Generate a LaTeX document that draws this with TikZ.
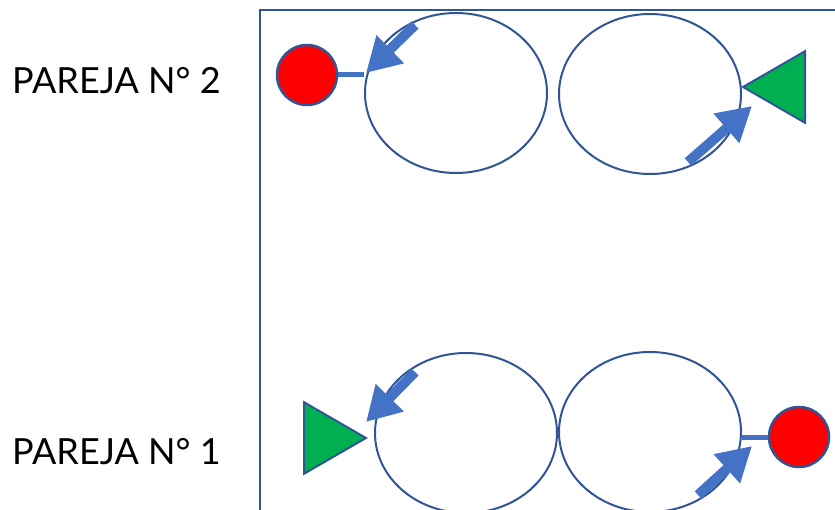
\documentclass[tikz,border=0pt]{standalone}
\usepackage{fontspec}
\setmainfont{Lato}
\usetikzlibrary{arrows.meta,shapes.geometric}

\definecolor{borde}{HTML}{2F5597}
\definecolor{flecha}{HTML}{4472C4}
\definecolor{rojo}{HTML}{FF0000}
\definecolor{verde}{HTML}{00B050}

\tikzset{
  aro/.style={ellipse, draw=borde, line width=2pt, minimum width=182pt, minimum height=160pt, inner sep=0pt},
  ficha/.style={circle, draw=borde, fill=rojo, line width=2.5pt, minimum size=60pt, inner sep=0pt},
  cono/.style={isosceles triangle, isosceles triangle apex angle=60, draw=borde, fill=verde,
    line width=2pt, minimum height=62pt, inner sep=0pt, outer sep=0pt, anchor=apex},
  giro/.style={draw=flecha, line width=10pt, -{Triangle[length=34pt,width=37pt]}},
  enlace/.style={draw=flecha, line width=5pt},
  rotulo/.style={inner sep=0pt, anchor=west, font=\fontsize{36}{40}\selectfont}
}

\begin{document}
\begin{tikzpicture}[x=1pt,y=-1pt]
  \useasboundingbox (0,0) rectangle (835,510);
  \begin{scope}
    \clip (0,0) rectangle (835,510);
    \draw[borde, line width=2pt] (260,530) -- (260,10) -- (860,10);
  \end{scope}

  % pareja 2 (arriba)
  \node[rotulo] (t2) at (12,81) {PAREJA N° 2};
  \node[aro] (a2i) at (456,93) {};
  \node[aro] (a2d) at (650,94) {};
  \node[ficha] (r2) at (307,75) {};
  \node[cono, shape border rotate=180] (v2) at (743,87) {};
  \coordinate (c2a) at (415,25);
  \coordinate (c2b) at (366,73);
  \coordinate (c2c) at (688,162);
  \coordinate (c2d) at (752,106);
  \draw[enlace] (r2.east) -- (a2i.west |- r2.east);
  \draw[giro] (c2a) -- (c2b);
  \draw[giro] (c2c) -- (c2d);

  % pareja 1 (abajo)
  \node[rotulo] (t1) at (12,452) {PAREJA N° 1};
  \node[aro] (a1i) at (466,433) {};
  \node[aro] (a1d) at (650,432) {};
  \node[ficha] (r1) at (799,437) {};
  \node[cono] (v1) at (366,438) {};
  \coordinate (c1a) at (415,372);
  \coordinate (c1b) at (366,422);
  \coordinate (c1c) at (698,495);
  \coordinate (c1d) at (752,446);
  \draw[enlace] (a1d.east |- r1.west) -- (r1.west);
  \draw[giro] (c1a) -- (c1b);
  \draw[giro] (c1c) -- (c1d);
\end{tikzpicture}
\end{document}
